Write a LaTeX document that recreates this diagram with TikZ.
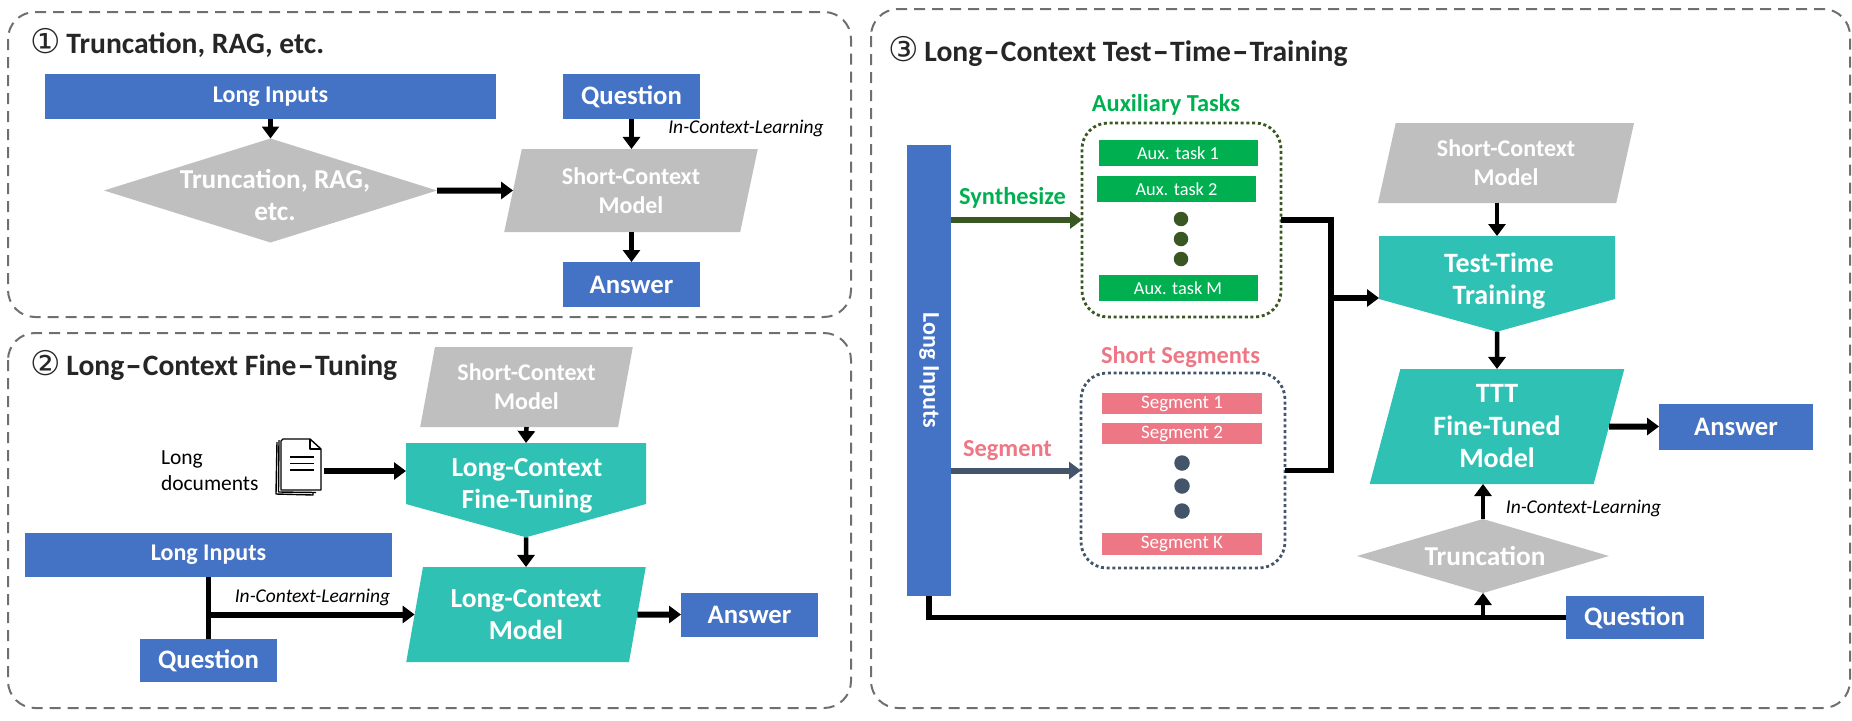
\documentclass[tikz,border=0pt]{standalone}
\usepackage{fontspec}
\usepackage{graphicx}
\setmainfont{Carlito}
\newfontfamily\circfont{DejaVu Sans}
\usetikzlibrary{arrows.meta,shapes.geometric,shapes.symbols}
\definecolor{inblue}{HTML}{4472C4}
\definecolor{sgrey}{HTML}{BFBFBF}
\definecolor{fteal}{HTML}{2FC1B3}
\definecolor{auxgreen}{HTML}{00B050}
\definecolor{auxdark}{HTML}{385723}
\definecolor{segpink}{HTML}{ED7785}
\definecolor{segdark}{HTML}{44546A}
\definecolor{panelgrey}{HTML}{6F6F6F}
\newcommand{\pxfont}[2]{\fontsize{#1}{#2}\selectfont}
\newcommand{\circnum}[1]{{\circfont\mdseries\pxfont{34}{34}#1}\kern6pt}
\newcommand{\hy}{\kern2pt\scalebox{1.6}[1]{-}\kern2pt}
\begin{document}
\begin{tikzpicture}[x=1pt,y=-1pt]
        \tikzstyle{every node}+=[inner sep=0pt,outer sep=0pt]
        \tikzstyle{panel}=[draw=panelgrey,line width=2,dash pattern=on 11pt off 7pt,rounded corners=27]
        \tikzstyle{title}=[anchor=west,font=\pxfont{29.6}{34}\bfseries,text=black!85]
        \tikzstyle{bluebox}=[rectangle,fill=inblue,text=white,font=\pxfont{26.7}{30}\bfseries]
        \tikzstyle{para}=[trapezium,trapezium left angle=76.4,trapezium right angle=103.6,trapezium stretches=true,align=center,text=white]
        \tikzstyle{greypara}=[para,fill=sgrey,font=\pxfont{24}{29}\bfseries]
        \tikzstyle{tealpara}=[para,fill=fteal,font=\pxfont{27.5}{32.5}\bfseries]
        \tikzstyle{train}=[signal,signal to=south,signal pointer angle=149,anchor=north,fill=fteal]
        \tikzstyle{tealtext}=[align=center,text=white,font=\pxfont{27.5}{32.5}\bfseries]
        \tikzstyle{choice}=[diamond,fill=sgrey]
        \tikzstyle{choicetext}=[align=center,text=white,font=\pxfont{27.3}{32}\bfseries]
        \tikzstyle{icl}=[font=\pxfont{19.5}{22}\itshape]
        \tikzstyle{arrowthin}=[line width=4.5,-{Triangle[length=12pt,width=17pt]}]
        \tikzstyle{arrowthick}=[line width=6,-{Triangle[length=12pt,width=17pt]}]
        \tikzstyle{wire}=[line width=5.5]
        \tikzstyle{auxbox}=[rectangle,fill=auxgreen,text=white,minimum width=159,minimum height=26,font=\pxfont{18.3}{22}]
        \tikzstyle{segbox}=[rectangle,fill=segpink,text=white,minimum width=160,minimum height=21.5,font=\pxfont{19}{22}]
        \tikzstyle{groupbox}=[rectangle,rounded corners=26,line width=2.8,dash pattern=on 3pt off 2.7pt]
        \tikzstyle{heading}=[font=\pxfont{24.4}{28}\bfseries]

        \useasboundingbox (0,0) rectangle (1852,720);

        \draw [panel] (8,12) rectangle (851,317);
        \node [title] (title1) at (30,43) {\circnum{①}Truncation, RAG, etc.};
        \node [bluebox,font=\pxfont{24}{28}\bfseries,minimum width=451,minimum height=45] (li1) at (270.5,96.5) {Long Inputs};
        \node [bluebox,minimum width=137,minimum height=45] (q1) at (631.5,96.5) {Question};
        \node [choice,minimum width=333,minimum height=104] (rag) at (270.5,190.5) {};
        \node [choicetext] (ragtext) at (275,195) {Truncation, RAG,\\etc.};
        \node [greypara,minimum width=254,minimum height=83] (scm1) at (631,190.5) {Short-Context\\Model};
        \node [bluebox,minimum width=137,minimum height=45] (a1) at (631.5,284.5) {Answer};
        \node [icl] (icl1) at (746,128) {In-Context-Learning};
        \draw [arrowthin] (li1) -- (rag.north);
        \draw [arrowthick] (rag.east) -- (scm1.west);
        \draw [arrowthin] (q1) -- (q1 |- scm1.north);
        \draw [arrowthin] (q1 |- scm1.south) -- (a1.north);

        \draw [panel] (8,333) rectangle (851,708);
        \node [title] (title2) at (30,365) {\circnum{②}Long\hy Context Fine\hy Tuning};
        \node [greypara,minimum width=213,minimum height=80] (scm2) at (526.5,387) {Short-Context\\Model};
        \node [train,minimum width=240,minimum height=61] (ft) at (526,443) {};
        \node [tealtext] (fttext) at (527,486) {Long-Context\\Fine-Tuning};
        \node [tealpara,minimum width=240,minimum height=95] (lcm) at (526,614.5) {Long-Context\\Model};
        \node [bluebox,minimum width=137,minimum height=44] (a2) at (749.5,614.5) {Answer};
        \node [bluebox,font=\pxfont{24}{28}\bfseries,minimum width=367,minimum height=44] (li2) at (208.5,555) {Long Inputs};
        \node [bluebox,minimum width=137,minimum height=43] (q2) at (208.5,660.5) {Question};
        \node [icl] (icl2) at (312.5,597) {In-Context-Learning};
        \node [anchor=west,align=left,font=\pxfont{21.5}{26}] (docs) at (161,471) {Long\\documents};
        \node [minimum width=45,minimum height=56] (doc) at (298.5,467) {};
        \draw [line width=1.4,line join=round,fill=white] (277,442) -- (276,494) -- (313,495) -- (313,490);
        \draw [line width=1.4,line join=round,fill=white] (279,440) -- (278.5,492) -- (316,492.5);
        \draw [line width=1.4,line join=round,fill=white] (283,439) -- (310,439) -- (321,449) -- (321,490) -- (281,490) -- (281,441) -- cycle;
        \draw [line width=1.2,line join=round] (310,439) -- (310,449) -- (321,449);
        \foreach \y in {457,463.5,470}
                \draw [line width=1.6] (290,\y) -- (314,\y);
        \coordinate (docout) at (324,471);
        \draw [arrowthick] (docout) -- (docout -| ft.west);
        \draw [arrowthin] (scm2.south) -- (ft.north);
        \draw [arrowthin] (ft.south) -- (lcm.north);
        \draw [arrowthick] (lcm.east) -- (a2.west);
        \draw [wire] (li2.south) -- (q2.north);
        \draw [arrowthick] (li2.south |- lcm.west) -- (lcm.west);

        \draw [panel] (871,9) rectangle (1850,708);
        \node [title] (title3) at (888,51) {\circnum{③}Long\hy Context Test\hy Time\hy Training};
        \node [rectangle,fill=inblue,minimum width=44,minimum height=451] (bar) at (929,370.5) {};
        \node [rotate=-90,text=white,font=\pxfont{24}{28}\bfseries] (bartext) at (929,370.5) {Long Inputs};
        \node [heading,text=auxgreen] (auxhead) at (1166,105) {Auxiliary Tasks};
        \node [groupbox,draw=auxdark,minimum width=199,minimum height=194] (auxgroup) at (1181.5,220) {};
        \node [auxbox] (aux1) at (1178,153) {Aux. task 1};
        \node [auxbox] (aux2) at (1176.5,189) {Aux. task 2};
        \node [auxbox] (auxm) at (1178,288) {Aux. task M};
        \foreach \y/\n in {219/a,239/b,259/c}
                \node [circle,fill=auxdark,minimum size=14.5] (auxdot\n) at (1181,\y) {};
        \node [heading,text=auxgreen] (synth) at (1012.5,198) {Synthesize};
        \node [heading,text=segpink] (seghead) at (1180.5,357) {Short Segments};
        \node [groupbox,draw=segdark,minimum width=204,minimum height=195] (seggroup) at (1183,470.5) {};
        \node [segbox] (seg1) at (1182,403.5) {Segment 1};
        \node [segbox] (seg2) at (1182,433.5) {Segment 2};
        \node [segbox] (segk) at (1182,544) {Segment K};
        \foreach \y/\n in {463/a,486/b,511/c}
                \node [circle,fill=segdark,minimum size=15.5] (segdot\n) at (1182,\y) {};
        \node [heading,text=segpink] (segname) at (1007.5,451) {Segment};
        \draw [arrowthick,draw=auxdark] (bar.east |- auxgroup.west) -- (auxgroup.west);
        \draw [arrowthick,draw=segdark] (bar.east |- seggroup.west) -- (seggroup.west);
        \coordinate (merge) at (1331,298);
        \draw [wire] (auxgroup.east) -| (merge) |- (seggroup.east);
        \node [greypara,minimum width=256.5,minimum height=80] (scm3) at (1506,163) {Short-Context\\Model};
        \node [train,minimum width=236,minimum height=63] (ttt) at (1497,236) {};
        \node [tealtext,font=\pxfont{28}{32.5}\bfseries] (ttttext) at (1499,281) {Test-Time\\Training};
        \node [tealpara,font=\pxfont{28}{32.5}\bfseries,minimum width=255,minimum height=115] (ttm) at (1497,426.5) {TTT\\Fine-Tuned\\Model};
        \node [bluebox,minimum width=154,minimum height=46] (a3) at (1736,426.5) {Answer};
        \node [choice,minimum width=252,minimum height=74] (trunc) at (1483,556) {};
        \node [choicetext] (trunctext) at (1485,556) {Truncation};
        \node [icl] (icl3) at (1583.5,508) {In-Context-Learning};
        \node [bluebox,minimum width=138,minimum height=43] (q3) at (1634.5,617.5) {Question};
        \draw [arrowthick] (merge) -- (merge -| ttt.west);
        \draw [arrowthin] (ttt.north |- scm3.south) -- (ttt.north);
        \draw [arrowthin] (ttt.south) -- (ttm.north);
        \draw [arrowthick] (ttm.east) -- (a3.west);
        \draw [arrowthin] (trunc.north) -- (trunc.north |- ttm.south);
        \draw [wire] (bar.south) |- (q3.west);
        \draw [arrowthin] (trunc.south |- q3.west) -- (trunc.south);
\end{tikzpicture}
\end{document}
